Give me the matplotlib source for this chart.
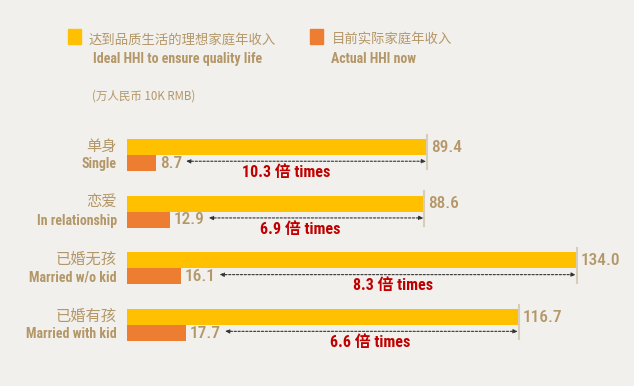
import matplotlib.pyplot as plt
from matplotlib import font_manager as fm
from matplotlib.patches import Rectangle

cats_cn = ['单身', '恋爱', '已婚无孩', '已婚有孩']
cats_en = ['Single', 'In relationship', 'Married w/o kid', 'Married with kid']
ideal = [89.4, 88.6, 134.0, 116.7]
actual = [8.7, 12.9, 16.1, 17.7]
ratio = ['10.3', '6.9', '8.3', '6.6']
nudge = [-20, -16, -5, -2]  # px shift of the ratio labels

BG = '#F2F0EC'
YEL = '#FFC000'
ORA = '#ED7D31'
TXT = '#B39768'
RED = '#C00000'
CN = ['Noto Sans CJK SC', 'DejaVu Sans']

# narrow latin font, first one found
have = {f.name for f in fm.fontManager.ttflist}
narrow = 'Roboto'
for nm in ['Liberation Sans Narrow', 'Arial Narrow', 'Roboto Condensed', 'Archivo Narrow',
           'PT Sans Narrow', 'Fira Sans Condensed', 'Barlow Semi Condensed']:
    if nm in have:
        narrow = nm
        break
EN = [narrow, 'Noto Sans CJK SC', 'DejaVu Sans']

W, H = 634, 386
fig = plt.figure(figsize=(W / 100, H / 100), dpi=100, facecolor=BG)

# axes: x=0 at pixel 127, 1 unit ~ 3.356 px ; y: group i at pixel 155 + 56.7*i
x0, sx = 127, 3.356
y0, sy = 155, 56.7
ax = fig.add_axes([x0 / W, 0, (W - x0) / W, 1])
ax.set_facecolor(BG)
ax.set_xlim(0, (W - x0) / sx)
ax.set_ylim((H - y0) / sy, -y0 / sy)
ax.axis('off')

bh = 16 / sy
n = len(cats_cn)
ax.barh([i - bh / 2 for i in range(n)], ideal, height=bh, color=YEL)
ax.barh([i + bh / 2 for i in range(n)], actual, height=bh, color=ORA)

fig.canvas.draw()
r = fig.canvas.get_renderer()
inv = ax.transData.inverted()

for i in range(n):
    # end tick on the ideal bar
    ax.plot([ideal[i], ideal[i]], [i - 0.36, i + 0.25], color='#D8CCBA', lw=1.5)
    ax.text(ideal[i] + 1.1, i - bh / 2, '%.1f' % ideal[i], color=TXT, fontsize=12.5,
            family=EN, fontweight=500, va='center', ha='left')
    t = ax.text(actual[i] + 1.1, i + bh / 2, '%.1f' % actual[i], color=TXT, fontsize=12.5,
                family=EN, fontweight=500, va='center', ha='left')
    bb = t.get_window_extent(r)
    xs = inv.transform((bb.x1 + 4, 0))[0]
    ax.annotate('', xy=(ideal[i] - 0.3, i + 0.11), xytext=(xs, i + 0.11),
                arrowprops=dict(arrowstyle='<|-|>,head_length=0.25,head_width=0.12',
                                color='#333333', lw=0.8, linestyle=(0, (2, 1.5)),
                                shrinkA=0, shrinkB=0))
    xm = (xs + ideal[i]) / 2 + nudge[i] / sx
    ax.text(xm, i + 0.31, ratio[i] + ' 倍 times', color=RED, fontsize=11.5,
            family=EN, fontweight='bold', va='center', ha='center')
    # category labels
    ax.text(-10 / sx, i - 0.16, cats_cn[i], color=TXT, fontsize=11, family=CN,
            fontweight='light', va='center', ha='right')
    ax.text(-10 / sx, i + 0.16, cats_en[i], color=TXT, fontsize=10, family=EN,
            fontweight='bold', va='center', ha='right')

# legend
fig.patches.append(Rectangle((68 / W, 1 - 44 / H), 13 / W, 15 / H, color=YEL,
                             transform=fig.transFigure))
fig.patches.append(Rectangle((310 / W, 1 - 44 / H), 13 / W, 15 / H, color=ORA,
                             transform=fig.transFigure))
fig.text(89 / W, 1 - 40 / H, '达到品质生活的理想家庭年收入', color=TXT, fontsize=9.6,
         family=CN, fontweight='light', va='center', ha='left')
fig.text(93 / W, 1 - 59 / H, 'Ideal HHI to ensure quality life', color=TXT, fontsize=10,
         family=EN, fontweight='bold', va='center', ha='left')
fig.text(332 / W, 1 - 40 / H, '目前实际家庭年收入', color=TXT, fontsize=9.6,
         family=CN, fontweight='light', va='center', ha='left')
fig.text(331 / W, 1 - 59 / H, 'Actual HHI now', color=TXT, fontsize=10,
         family=EN, fontweight='bold', va='center', ha='left')
fig.text(92 / W, 1 - 96 / H, '(万人民币 10K RMB)', color=TXT, fontsize=8.3,
         family=CN, fontweight='light', va='center', ha='left')

fig.savefig('out.png', dpi=100, facecolor=BG)
